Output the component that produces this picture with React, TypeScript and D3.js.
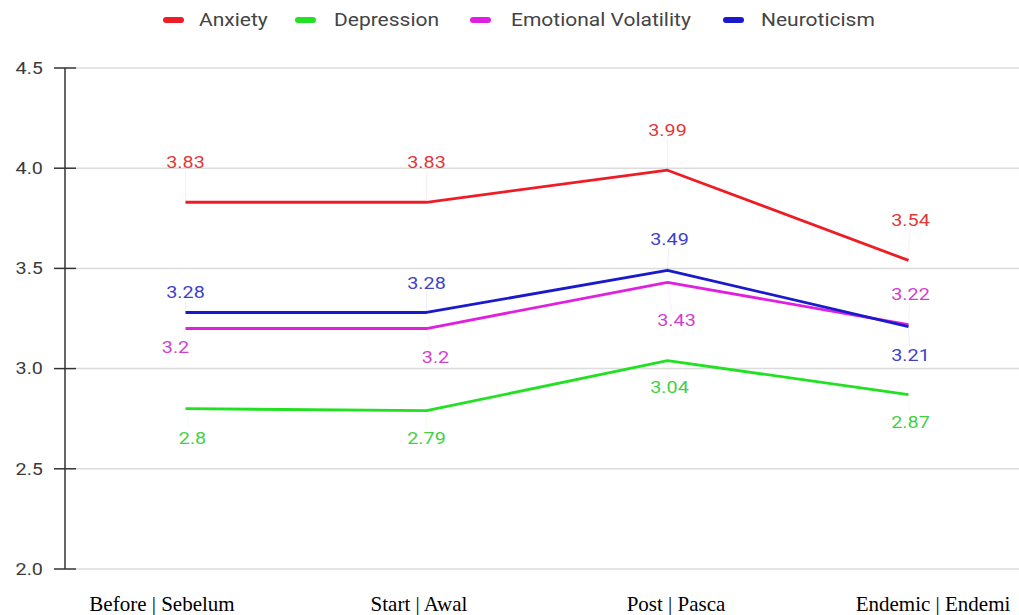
import React from "react";
import * as d3 from "d3";

const categories = ["Before | Sebelum", "Start | Awal", "Post | Pasca", "Endemic | Endemi"];
const seriesNames = ["Anxiety", "Depression", "Emotional Volatility", "Neuroticism"];
const seriesColors = ["#ee1c25", "#22e022", "#e020e0", "#1a1acc"];
const labelColors = ["#e03838", "#44d044", "#d040d0", "#4040c8"];
const anxiety = [3.83, 3.83, 3.99, 3.54];
const depression = [2.8, 2.79, 3.04, 2.87];
const emotionalVolatility = [3.2, 3.2, 3.43, 3.22];
const neuroticism = [3.28, 3.28, 3.49, 3.21];
const yTicks = [2.0, 2.5, 3.0, 3.5, 4.0, 4.5];

// label placement offsets (layout, px) [dx, dy] per series per category
const labelOffsets: [number, number][][] = [
  [[0, -40], [0, -40], [0, -40], [2, -40]],
  [[7, 29], [0, 27], [2, 27], [2, 27]],
  [[-10, 18.5], [9, 28.5], [9, 38], [2, -30]],
  [[0, -20.5], [0, -29.5], [2, -31], [2, 28.5]],
];

const W = 1019;
const H = 615;
const SX = 1.2;

export default function App() {
  const seriesValues = [anxiety, depression, emotionalVolatility, neuroticism];
  const x = d3.scalePoint<string>().domain(categories).range([65, 1029]).padding(0.5);
  const xLabel = d3.scalePoint<string>().domain(categories).range([162, 933]);
  const y = d3.scaleLinear().domain([2, 4.5]).range([569, 68]);
  const line = d3
    .line<number>()
    .x((_, i) => x(categories[i]) as number)
    .y((d) => y(d));

  const legendItems = [
    { swatch: 163, text: 199 },
    { swatch: 295, text: 334 },
    { swatch: 470, text: 511 },
    { swatch: 723, text: 761 },
  ];

  return (
    <svg width={W} height={H} style={{ position: "absolute", left: 0, top: 0 }}>
      <rect width={W} height={H} fill="#fff" />
      {/* gridlines */}
      {yTicks.map((t) => (
        <line key={"g" + t} x1={75} x2={W} y1={y(t)} y2={y(t)} stroke="#dcdcdc" strokeWidth={1.5} />
      ))}
      {/* y axis */}
      <line x1={65} x2={65} y1={y(4.5)} y2={y(2)} stroke="#333" strokeWidth={1.5} />
      {yTicks.map((t) => (
        <g key={"t" + t}>
          <line x1={54} x2={76} y1={y(t)} y2={y(t)} stroke="#333" strokeWidth={1.5} />
          <text
            transform={`translate(43,${y(t)}) scale(${SX},1)`}
            textAnchor="end"
            dominantBaseline="central"
            fontFamily="Roboto, sans-serif"
            fontSize={16.5}
            fill="#3a3a3a"
          >
            {t.toFixed(1)}
          </text>
        </g>
      ))}
      {/* leader lines */}
      {seriesValues.map((vals, si) =>
        vals.map((v, ci) => {
          const px = x(categories[ci]) as number;
          const py = y(v);
          const [dx, dy] = labelOffsets[si][ci];
          const ly = py + dy + (dy < 0 ? 9 : -9);
          return (
            <line
              key={"l" + si + ci}
              x1={px}
              y1={py}
              x2={px + dx * 0.5}
              y2={ly}
              stroke={seriesColors[si]}
              strokeOpacity={0.08}
              strokeWidth={1}
            />
          );
        })
      )}
      {/* lines */}
      {seriesValues.map((vals, si) => (
        <path
          key={"p" + si}
          d={line(vals) as string}
          fill="none"
          stroke={seriesColors[si]}
          strokeWidth={2.8}
          strokeLinejoin="round"
        />
      ))}
      {/* value labels */}
      {seriesValues.map((vals, si) =>
        vals.map((v, ci) => {
          const [dx, dy] = labelOffsets[si][ci];
          const tx = (x(categories[ci]) as number) + dx;
          const ty = y(v) + dy;
          return (
            <text
              key={"v" + si + ci}
              transform={`translate(${tx},${ty}) scale(${SX},1)`}
              textAnchor="middle"
              dominantBaseline="central"
              fontFamily="Roboto, sans-serif"
              fontSize={16.5}
              fill={labelColors[si]}
            >
              {String(v)}
            </text>
          );
        })
      )}
      {/* category labels */}
      {categories.map((c) => (
        <text
          key={"c" + c}
          x={xLabel(c) as number}
          y={611}
          textAnchor="middle"
          fontFamily="'Liberation Serif', 'Times New Roman', serif"
          fontSize={21}
          fill="#000"
        >
          {c}
        </text>
      ))}
      {/* legend */}
      {seriesNames.map((n, i) => (
        <g key={"lg" + n}>
          <rect x={legendItems[i].swatch} y={17} width={21} height={6} rx={3} fill={seriesColors[i]} />
          <text
            transform={`translate(${legendItems[i].text},20) scale(${SX},1)`}
            dominantBaseline="central"
            fontFamily="Roboto, sans-serif"
            fontSize={17.5}
            fill="#444"
          >
            {n}
          </text>
        </g>
      ))}
    </svg>
  );
}
